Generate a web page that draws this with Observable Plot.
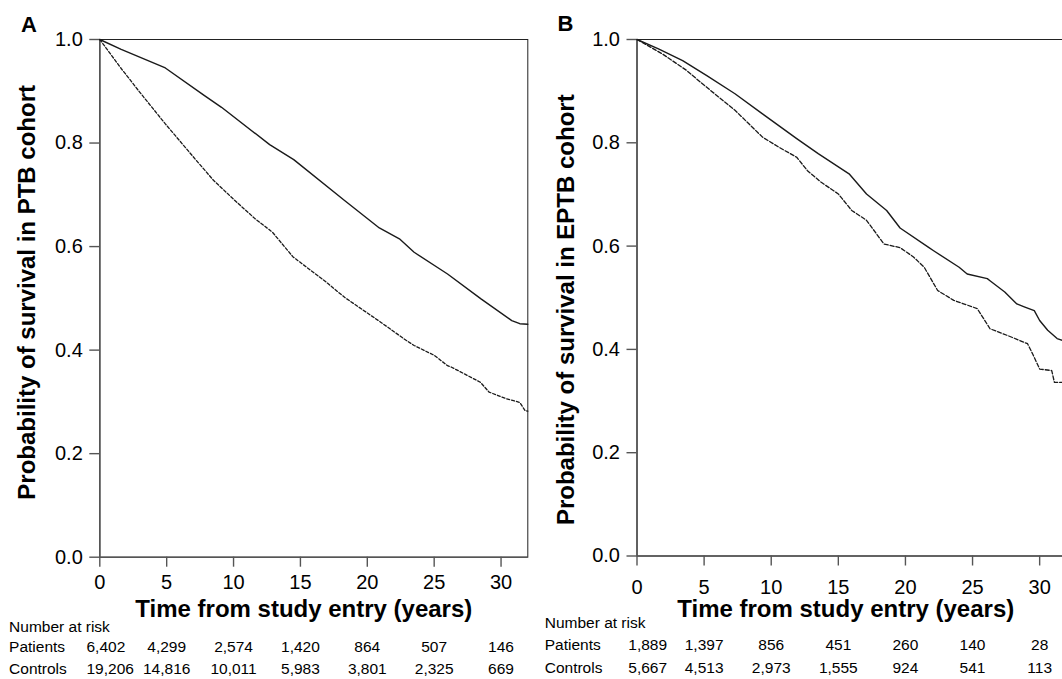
<!DOCTYPE html>
<html><head><meta charset="utf-8">
<script src="https://cdn.jsdelivr.net/npm/d3@7"></script>
<script src="https://cdn.jsdelivr.net/npm/@observablehq/plot@0.6"></script>
<style>
html,body{margin:0;padding:0;background:#fff;overflow:hidden;}
#wrap{position:relative;width:1062px;height:679px;overflow:hidden;background:#fff;}
#wrap svg{position:absolute;top:0;}
</style></head><body><div id="wrap"></div>
<script>
// ---- tick labels ----
const xTicks = [0, 5, 10, 15, 20, 25, 30];
const yTicks = [0, 0.2, 0.4, 0.6, 0.8, 1.0];
const riskTimes = [0, 5, 10, 15, 20, 25, 30];

// ---- Panel A (PTB cohort) ----
const timeA_patients = [0, 1.6, 4.9, 7.8, 9.1, 12.7, 14.5, 18.3, 20.9, 22.4, 23.5, 26.0, 28.5, 30.8, 31.4, 32];
const survA_patients = [1.0, 0.981, 0.945, 0.892, 0.869, 0.797, 0.768, 0.689, 0.636, 0.615, 0.589, 0.547, 0.499, 0.457, 0.451, 0.450];
const timeA_controls = [0, 1.6, 2.3, 2.9, 4.9, 7.0, 8.5, 10.1, 11.6, 12.9, 14.45, 16.8, 18.3, 21.0, 22.9, 23.5, 25.0, 26.0, 26.3, 28.45, 29.1, 30.4, 31.4, 31.8, 32];
const survA_controls = [1.0, 0.944, 0.921, 0.901, 0.837, 0.773, 0.728, 0.689, 0.654, 0.628, 0.580, 0.534, 0.502, 0.454, 0.419, 0.409, 0.390, 0.370, 0.367, 0.338, 0.319, 0.306, 0.299, 0.283, 0.282];
const riskA_patients = [6402, 4299, 2574, 1420, 864, 507, 146];
const riskA_controls = [19206, 14816, 10011, 5983, 3801, 2325, 669];

// ---- Panel B (EPTB cohort) ----
const timeB_patients = [0, 1.6, 3.4, 5.2, 7.3, 9.35, 11.9, 13.5, 15.8, 17.1, 18.6, 19.6, 21.7, 22.1, 24.0, 24.6, 26.1, 26.3, 27.4, 28.3, 28.9, 29.6, 30.0, 30.6, 31.3, 32];
const survB_patients = [1.0, 0.982, 0.959, 0.930, 0.895, 0.856, 0.808, 0.779, 0.740, 0.701, 0.669, 0.635, 0.598, 0.591, 0.559, 0.546, 0.537, 0.533, 0.511, 0.488, 0.482, 0.475, 0.456, 0.437, 0.421, 0.415];
const timeB_controls = [0, 1.9, 3.7, 4.7, 5.5, 7.3, 9.35, 10.6, 11.9, 12.7, 13.7, 15.0, 16.0, 17.1, 18.4, 19.6, 20.6, 21.4, 22.4, 23.6, 25.35, 26.3, 27.6, 29.1, 29.5, 30.0, 30.9, 31.1, 32];
const survB_controls = [1.0, 0.972, 0.940, 0.918, 0.901, 0.863, 0.811, 0.791, 0.772, 0.746, 0.724, 0.701, 0.669, 0.650, 0.604, 0.597, 0.579, 0.559, 0.514, 0.495, 0.479, 0.440, 0.427, 0.411, 0.390, 0.362, 0.359, 0.336, 0.336];
const riskB_patients = [1889, 1397, 856, 451, 260, 140, 28];
const riskB_controls = [5667, 4513, 2973, 1555, 924, 541, 113];

const xLabel = "Time from study entry (years)";
const rowNames = ["Patients", "Controls"];

const FONT = "'Liberation Sans', Arial, Helvetica, sans-serif";
const fmt = d3.format(",");
const pts = (t, s) => t.map((d, i) => ({t: d, s: s[i]}));

function panel(cfg) {
  const riskRows = [cfg.riskP, cfg.riskC];
  const T = {lineAnchor: "middle"};
  const marks = [
    Plot.frame({stroke: "#222", strokeWidth: 1}),
    Plot.axisY({ticks: yTicks, tickFormat: d3.format(".1f"), tickSize: 10, tickPadding: 7, stroke: "#555", strokeWidth: 1.4, label: null}),
    Plot.axisX({ticks: xTicks, tickFormat: d => d, tickSize: 10, tickPadding: cfg.xPad, stroke: "#555", strokeWidth: 1.4, label: null}),
    Plot.ruleX([0], {stroke: "#555", strokeWidth: 1.6}),
    Plot.ruleY([0], {stroke: "#555", strokeWidth: 1.6}),
    Plot.line(pts(cfg.tC, cfg.sC), {x: "t", y: "s", stroke: "#1a1a1a", strokeWidth: 1.3, strokeDasharray: cfg.dash}),
    Plot.line(pts(cfg.tP, cfg.sP), {x: "t", y: "s", stroke: "#1a1a1a", strokeWidth: 1.4}),
    Plot.text([xLabel], {...T, text: d => d, frameAnchor: "bottom", textAnchor: "middle", dx: cfg.xTitleDx, dy: cfg.xTitleDy, fontSize: 24, fontWeight: "bold"}),
    Plot.text([cfg.yLabel], {...T, text: d => d, frameAnchor: "left", textAnchor: "middle", rotate: -90, dx: cfg.yTitleDx, dy: cfg.yTitleDy, fontSize: 24, fontWeight: "bold"}),
    Plot.text([cfg.letter], {...T, text: d => d, frameAnchor: "top-left", textAnchor: "middle", dx: cfg.letterDx, dy: cfg.letterDy, fontSize: 22, fontWeight: "bold"}),
    Plot.text(["Number at risk"], {...T, text: d => d, frameAnchor: "bottom-left", dx: cfg.rowDx, dy: cfg.nrDy, textAnchor: "start", fontSize: 15.5})
  ];
  riskRows.forEach((vals, r) => {
    const rows = riskTimes.map((t, i) => ({t, n: vals[i]}));
    const dy = cfg.rowDy[r];
    marks.push(
      Plot.text([rowNames[r]], {...T, text: d => d, frameAnchor: "bottom-left", dx: cfg.rowDx, dy, textAnchor: "start", fontSize: 15.5}),
      Plot.text(rows.filter(d => d.t > 0), {...T, x: "t", text: d => fmt(d.n), frameAnchor: "bottom", dy, textAnchor: "middle", fontSize: 15.5}),
      Plot.text(rows.filter(d => d.t === 0), {...T, x: "t", text: d => fmt(d.n), frameAnchor: "bottom", dx: cfg.firstDx, dy, textAnchor: "start", fontSize: 15.5})
    );
  });
  const svg = Plot.plot({
    width: cfg.width, height: 679,
    marginLeft: cfg.ml, marginRight: cfg.mr, marginTop: 39, marginBottom: cfg.mb,
    x: {domain: [0, 32]},
    y: {domain: [0, 1]},
    style: {fontFamily: FONT, fontSize: "20px", color: "#000", background: "transparent", overflow: "visible"},
    marks
  });
  svg.style.left = cfg.left + "px";
  return svg;
}

const wrap = document.getElementById("wrap");
wrap.appendChild(panel({
  left: 0, width: 531, ml: 99.3, mr: 3.7, mb: 122.3, xPad: 8,
  tP: timeA_patients, sP: survA_patients, tC: timeA_controls, sC: survA_controls,
  riskP: riskA_patients, riskC: riskA_controls, dash: "3,2",
  yLabel: "Probability of survival in PTB cohort", letter: "A",
  xTitleDx: -10, xTitleDy: 52, yTitleDx: -72, yTitleDy: -6,
  letterDx: -70.8, letterDy: -14.8,
  rowDx: -90.7, nrDy: 70.3, rowDy: [89.5, 111.6], firstDx: -13.3
}));
wrap.appendChild(panel({
  left: 531, width: 539, ml: 105.5, mr: 4, mb: 123.5, xPad: 13.5,
  tP: timeB_patients, sP: survB_patients, tC: timeB_controls, sC: survB_controls,
  riskP: riskB_patients, riskC: riskB_controls, dash: "4,2",
  yLabel: "Probability of survival in EPTB cohort", letter: "B",
  xTitleDx: -6, xTitleDy: 53.5, yTitleDx: -70.7, yTitleDy: 12,
  letterDx: -71.5, letterDy: -15.7,
  rowDx: -92.3, nrDy: 67.5, rowDy: [89.5, 112.5], firstDx: -8.7
}));
</script></body></html>
